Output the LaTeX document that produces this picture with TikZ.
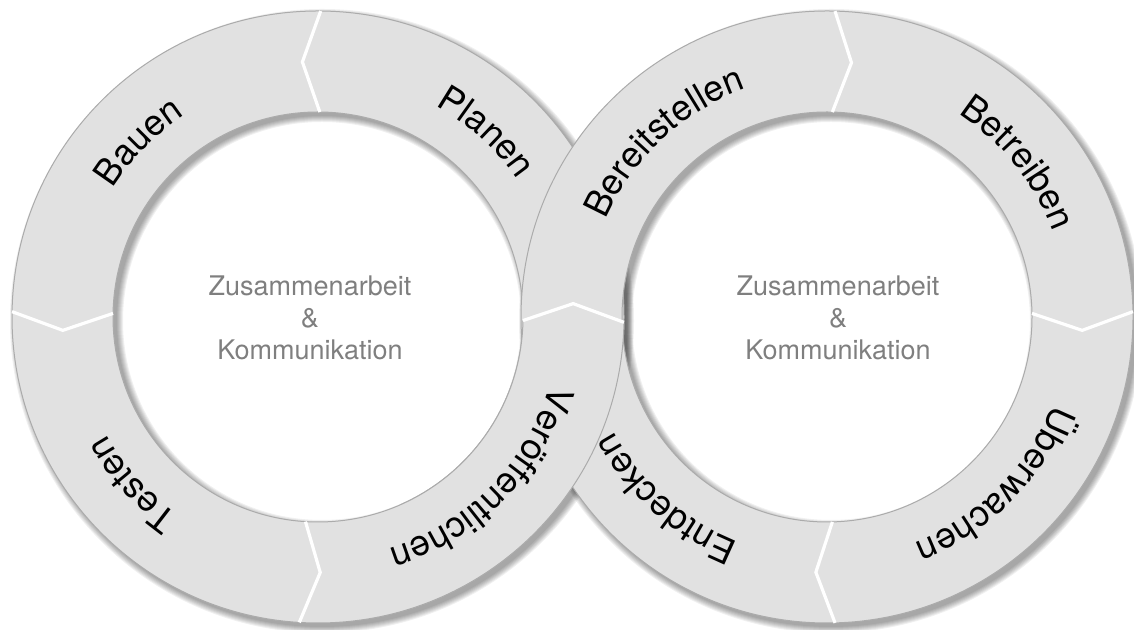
\documentclass[tikz,border=0pt]{standalone}
\usepackage{fontspec}
\setmainfont{TeX Gyre Heros}
\usetikzlibrary{calc,decorations.text}
\definecolor{bandgrey}{HTML}{E1E1E1}
\definecolor{edgegrey}{HTML}{ABABAB}
\definecolor{notegrey}{HTML}{7F7F7F}
\newcommand\ringfont{\fontsize{18}{20}\selectfont}

\begin{document}
\begin{tikzpicture}[x=0.5pt, y=0.5pt]
  \tikzstyle{band}=[fill=bandgrey, draw=edgegrey, line width=0.5pt, even odd rule]
  \tikzstyle{shadowring}=[fill=black, opacity=0.06, even odd rule]
  \tikzstyle{chevron}=[draw=white, line width=1.6pt, line join=miter]
  \tikzstyle{note}=[text=notegrey, font=\fontsize{13.5}{16}\selectfont, align=center]
  \useasboundingbox (0,0) rectangle (1134,630);
  \coordinate (L) at (318,313);
  \coordinate (R) at (827,313);
  % soft shadows
  \foreach \s in {0,...,6} {
    \fill[shadowring] ($(L)+(4,-4)$) circle[radius=306+\s] ($(L)+(4,-4)$) circle[radius=205-\s];
    \fill[shadowring] ($(R)+(4,-4)$) circle[radius=306+\s] ($(R)+(4,-4)$) circle[radius=205-\s];
  }
  % the two rings, right one on top
  \path[band] (L) circle[radius=306] (L) circle[radius=205];
  \path[band] (R) circle[radius=306] (R) circle[radius=205];
  % lower crossing: left ring on top
  \begin{scope}
    \clip (400,0) -- (400,309) -- ($(L)+(-1:205)$) -- ($(L)+(3:255.5)$)
      -- ($(L)+(-1:306)$) -- (720,308) -- (720,0) -- cycle;
    \path[band] (L) circle[radius=306] (L) circle[radius=205];
  \end{scope}
  % chevrons
  \foreach \a in {89.5,179,266.5,-1}
    \draw[chevron] ($(L)+(\a:205)$) -- ($(L)+(\a+4:255.5)$) -- ($(L)+(\a:306)$);
  \foreach \a in {88.5,1,271.5}
    \draw[chevron] ($(R)+(\a:205)$) -- ($(R)+(\a-4:255.5)$) -- ($(R)+(\a:306)$);
  % labels of the left ring
  \path[decorate, decoration={text along path, text align=center, text={|\ringfont|Planen}}]
    ($(L)+(107.7:242)$) arc[start angle=107.7, end angle=-12.3, radius=242];
  \path[decorate, decoration={text along path, text align=center, text={|\ringfont|Bauen}}]
    ($(L)+(195.6:242)$) arc[start angle=195.6, end angle=75.6, radius=242];
  \path[decorate, decoration={text along path, text align=center, text={|\ringfont|Testen}}]
    ($(L)+(281.9:242)$) arc[start angle=281.9, end angle=161.9, radius=242];
  \path[decorate, decoration={text along path, text align=center, text={|\ringfont|Veröffentlichen}}]
    ($(L)+(15.4:242)$) arc[start angle=15.4, end angle=-104.6, radius=242];
  % labels of the right ring
  \path[decorate, decoration={text along path, text align=center, text={|\ringfont|Bereitstellen}}]
    ($(R)+(192.9:242)$) arc[start angle=192.9, end angle=72.9, radius=242];
  \path[decorate, decoration={text along path, text align=center, text={|\ringfont|Betreiben}}]
    ($(R)+(98.9:242)$) arc[start angle=98.9, end angle=-21.1, radius=242];
  \path[decorate, decoration={text along path, text align=center, text={|\ringfont|Überwachen}}]
    ($(R)+(15:242)$) arc[start angle=15, end angle=-105, radius=242];
  \path[decorate, decoration={text along path, text align=center, text={|\ringfont|Entdecken}}]
    ($(R)+(288.4:242)$) arc[start angle=288.4, end angle=168.4, radius=242];
  % centre notes
  \node[note] (lnote) at (310,312) {Zusammenarbeit\\\&\\Kommunikation};
  \node[note] (rnote) at (838,312) {Zusammenarbeit\\\&\\Kommunikation};
\end{tikzpicture}
\end{document}
